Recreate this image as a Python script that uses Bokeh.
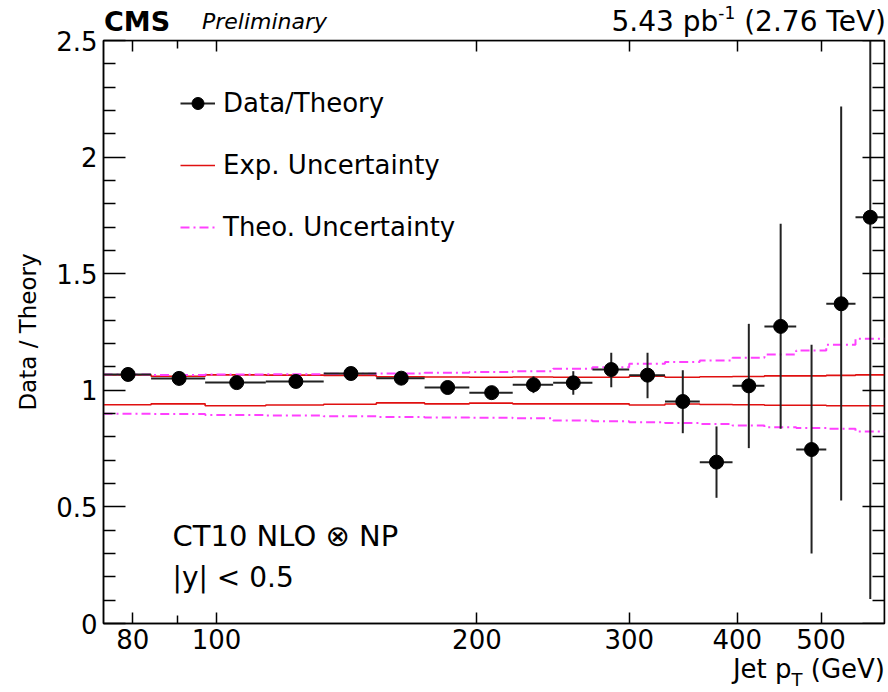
from bokeh.plotting import figure
from bokeh.layouts import column
from bokeh.models import (FixedTicker, LinearAxis, LogAxis, Label, Legend, LegendItem,
                          Range1d, Div)
from bokeh.embed import file_html
from bokeh.resources import INLINE

# ---- data ----
bin_edges = [74, 84, 97, 114, 133, 153, 174, 196, 220, 245, 272, 300, 330, 362, 395, 430, 468, 507, 548, 592]
ratio    = [1.068, 1.051, 1.033, 1.038, 1.072, 1.052, 1.012, 0.990, 1.024, 1.032, 1.089, 1.065, 0.952, 0.692, 1.019, 1.274, 0.746, 1.371, 1.742]
ratio_hi = [1.080, 1.063, 1.045, 1.050, 1.085, 1.066, 1.028, 1.006, 1.060, 1.082, 1.161, 1.161, 1.086, 0.845, 1.285, 1.714, 1.195, 2.217, 2.900]
ratio_lo = [1.056, 1.039, 1.021, 1.026, 1.059, 1.038, 0.996, 0.974, 0.988, 0.981, 1.013, 0.966, 0.816, 0.539, 0.752, 0.835, 0.300, 0.527, 0.105]
exp_up  = [1.066, 1.060, 1.066, 1.065, 1.064, 1.058, 1.057, 1.056, 1.057, 1.056, 1.056, 1.060, 1.056, 1.058, 1.059, 1.062, 1.062, 1.064, 1.066]
exp_dn  = [0.938, 0.942, 0.934, 0.937, 0.940, 0.946, 0.942, 0.945, 0.942, 0.942, 0.942, 0.937, 0.941, 0.939, 0.938, 0.936, 0.936, 0.934, 0.934]
theo_up = [1.068, 1.066, 1.068, 1.069, 1.071, 1.072, 1.075, 1.078, 1.082, 1.092, 1.099, 1.114, 1.121, 1.128, 1.140, 1.153, 1.171, 1.195, 1.221]
theo_dn = [0.899, 0.898, 0.894, 0.892, 0.889, 0.886, 0.883, 0.882, 0.880, 0.870, 0.867, 0.863, 0.860, 0.856, 0.849, 0.842, 0.838, 0.835, 0.823]
x_ticks = [80, 100, 200, 300, 400, 500]
x_minor = [90]
y_ticks = [0, 0.5, 1, 1.5, 2, 2.5]
y_minor = [round(0.1 * i, 1) for i in range(26) if i % 5 != 0]

FONT = "DejaVu Sans"

bin_lo = bin_edges[:-1]
bin_hi = bin_edges[1:]
bin_mid = [(a + b) / 2 for a, b in zip(bin_lo, bin_hi)]

fig = figure(width=888, height=672, x_axis_type="log",
             x_range=Range1d(bin_edges[0], bin_edges[-1]), y_range=Range1d(0, 2.5),
             output_backend="svg", toolbar_location=None,
             min_border_left=103, min_border_right=4, min_border_top=40, min_border_bottom=49)
fig.grid.visible = False
fig.outline_line_color = "black"
fig.outline_line_width = 1.5
fig.background_fill_color = "white"
fig.border_fill_color = "white"

def style_axis(ax, ticks, minor, major_len, minor_len):
    ax.ticker = FixedTicker(ticks=ticks, minor_ticks=minor)
    ax.major_tick_in = major_len
    ax.major_tick_out = 0
    ax.minor_tick_in = minor_len
    ax.minor_tick_out = 0
    ax.axis_line_width = 1.5
    ax.major_tick_line_width = 1.5
    ax.minor_tick_line_width = 1.5
    ax.axis_line_color = "black"
    ax.major_tick_line_color = "black"
    ax.minor_tick_line_color = "black"
    ax.major_label_text_font = FONT
    ax.major_label_text_font_size = "26px"
    ax.major_label_text_color = "black"

xax = fig.xaxis[0]
style_axis(xax, x_ticks, x_minor, 11, 8)
xax.major_label_standoff = 5
yax = fig.yaxis[0]
style_axis(yax, y_ticks, y_minor, 22, 12)
yax.major_label_standoff = 6
yax.axis_label = "Data / Theory"
yax.axis_label_text_font = FONT
yax.axis_label_text_font_size = "23px"
yax.axis_label_text_font_style = "normal"
yax.axis_label_text_color = "black"
yax.axis_label_standoff = 12

# mirrored tick axes (top / right), ticks only
top = LogAxis(fixed_location=y_ticks[-1], major_label_text_alpha=0)
style_axis(top, x_ticks, x_minor, 11, 8)
fig.add_layout(top, "above")
right = LinearAxis(fixed_location=bin_edges[-1], major_label_text_alpha=0)
style_axis(right, y_ticks, y_minor, 22, 12)
fig.add_layout(right, "right")

# uncertainty bands (step histograms)
exp_u = fig.step(x=bin_edges, y=exp_up + [exp_up[-1]], mode="after", line_color="#e01010", line_width=1.6)
fig.step(x=bin_edges, y=exp_dn + [exp_dn[-1]], mode="after", line_color="#e01010", line_width=1.6)
theo_u = fig.step(x=bin_edges, y=theo_up + [theo_up[-1]], mode="after", line_color="#ff40ff",
                  line_width=2, line_dash="9 4 2 4")
fig.step(x=bin_edges, y=theo_dn + [theo_dn[-1]], mode="after", line_color="#ff40ff",
         line_width=2, line_dash="9 4 2 4")

# data points
xerr = fig.segment(x0=bin_lo, x1=bin_hi, y0=ratio, y1=ratio, line_color="#222222", line_width=2)
fig.segment(x0=bin_mid, x1=bin_mid, y0=ratio_lo, y1=ratio_hi, line_color="#222222", line_width=2)
pts = fig.scatter(x=bin_mid, y=ratio, size=14, color="black")

legend = Legend(items=[LegendItem(label="Data/Theory", renderers=[xerr, pts]),
                       LegendItem(label="Exp. Uncertainty", renderers=[exp_u]),
                       LegendItem(label="Theo. Uncertainty", renderers=[theo_u])],
                location=(77, 381), glyph_width=35, glyph_height=30, label_height=30,
                spacing=32, padding=0, margin=0, label_standoff=8,
                label_text_font=FONT, label_text_font_size="26px", label_text_color="black",
                border_line_color=None, background_fill_alpha=0)
fig.add_layout(legend)

def make_label(text, x, y, size):
    return Label(x=x, y=y, x_units="screen", y_units="screen", text=text,
                 text_font=FONT, text_font_size=size, text_align="left",
                 text_baseline="alphabetic", text_color="black")

fig.add_layout(make_label("CT10 NLO ⊗ NP", 69, 88, "29px"))
fig.add_layout(make_label("|y| < 0.5", 69, 46, "28px"))

# header / footer texts laid over the figure's border area (real HTML text)
overlay = Div(width=888, height=20, margin=0, styles={"overflow": "visible"}, text=(
    "<div style=\"position:relative;width:888px;height:20px;overflow:visible;font-family:'DejaVu Sans';color:black;\">"
    "<span style='position:absolute;left:104px;top:-664px;font-size:27px;line-height:27px;font-weight:bold;white-space:nowrap;'>CMS</span>"
    "<span style='position:absolute;left:202px;top:-661px;font-size:22px;line-height:22px;font-style:italic;white-space:nowrap;'>Preliminary</span>"
    "<span style='position:absolute;right:2px;top:-664px;font-size:28px;line-height:28px;white-space:nowrap;'>5.43 pb"
    "<span style='font-size:17px;line-height:0;vertical-align:12px;'>-1</span> (2.76 TeV)</span>"
    "<span style='position:absolute;right:3px;top:-16px;font-size:26px;line-height:26px;white-space:nowrap;'>Jet p"
    "<span style='font-size:18px;line-height:0;vertical-align:-8px;'>T</span> (GeV)</span>"
    "</div>"))

p = column(fig, overlay, spacing=0)

open("out.html", "w").write(file_html(p, INLINE))
